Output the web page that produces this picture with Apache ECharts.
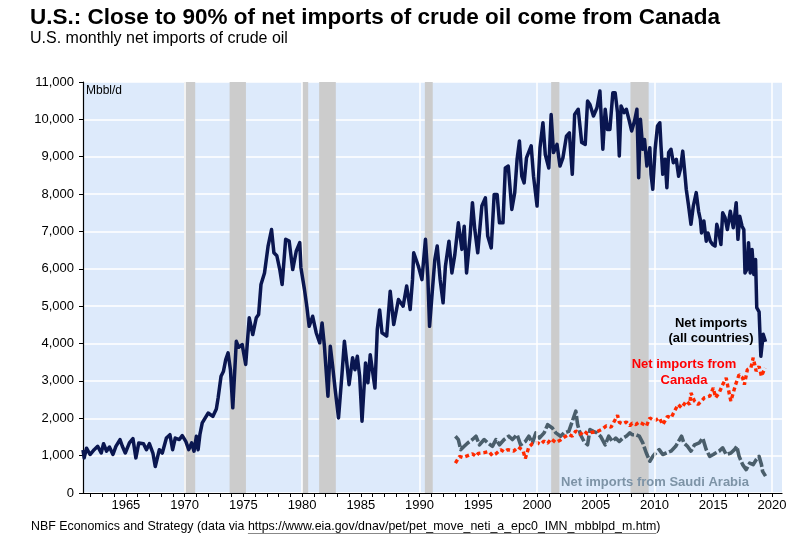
<!DOCTYPE html>
<html><head><meta charset="utf-8">
<script src="https://cdn.jsdelivr.net/npm/echarts@6/dist/echarts.min.js"></script>
<style>html,body{margin:0;padding:0;background:#fff}#c{width:797px;height:543px}</style>
</head><body><div id="c"></div>
<script>
// ---- DATA ----
// U.S. net imports of crude oil, all countries (Mbbl/d), [decimal year, value]
const netImportsAll = [
[1961.35,1150],[1961.45,940],[1961.65,1200],[1961.95,1030],[1962.3,1160],[1962.6,1250],[1962.9,1070],
[1963.1,1320],[1963.35,1120],[1963.6,1230],[1963.9,1030],[1964.15,1250],[1964.5,1430],[1964.7,1250],
[1964.95,1070],[1965.3,1340],[1965.6,1455],[1965.85,940],[1966.1,1340],[1966.5,1320],[1966.75,1160],
[1967.0,1320],[1967.3,1070],[1967.5,710],[1967.85,1160],[1968.1,1070],[1968.45,1470],[1968.75,1560],
[1968.98,1160],[1969.2,1470],[1969.55,1430],[1969.8,1535],[1970.1,1380],[1970.35,1160],[1970.6,1340],
[1970.8,1120],[1971.0,1520],[1971.15,1160],[1971.3,1560],[1971.5,1875],[1972.0,2140],[1972.4,2050],
[1972.7,2250],[1972.85,2545],[1973.1,3125],[1973.3,3250],[1973.5,3570],[1973.7,3750],[1973.9,3300],
[1974.1,2280],[1974.4,4060],[1974.6,3900],[1974.9,3970],[1975.2,3440],[1975.5,4690],[1975.8,4240],
[1976.1,4690],[1976.3,4780],[1976.5,5580],[1976.8,5890],[1977.1,6600],[1977.4,7050],[1977.6,6430],
[1977.85,6350],[1978.1,5980],[1978.3,5580],[1978.6,6790],[1978.9,6740],[1979.2,5980],[1979.5,6470],
[1979.8,6700],[1979.9,6030],[1980.2,5450],[1980.4,5000],[1980.6,4460],[1980.9,4730],[1981.2,4290],
[1981.5,4020],[1981.7,4550],[1981.9,3930],[1982.2,2590],[1982.4,3930],[1982.6,3400],[1982.8,2810],
[1983.1,2010],[1983.4,3200],[1983.6,4060],[1983.8,3500],[1984.0,2900],[1984.3,3620],[1984.5,3300],
[1984.7,3660],[1984.9,3125],[1985.1,1920],[1985.4,3480],[1985.6,2950],[1985.8,3700],[1986.2,2810],
[1986.4,4375],[1986.6,4900],[1986.8,4290],[1987.2,4200],[1987.5,5400],[1987.8,4510],[1988.2,5180],
[1988.6,5000],[1988.9,5540],[1989.2,4910],[1989.4,5710],[1989.5,6430],[1989.9,6070],[1990.2,5710],
[1990.5,6790],[1990.7,5800],[1990.85,4460],[1991.05,5270],[1991.3,6250],[1991.5,6610],[1991.75,5710],
[1992.0,5090],[1992.2,6070],[1992.5,6740],[1992.75,5890],[1993.0,6380],[1993.3,7230],[1993.6,6520],
[1993.8,7140],[1994.0,5890],[1994.3,6880],[1994.5,7770],[1994.7,7050],[1994.95,6430],[1995.3,7680],
[1995.6,7900],[1995.8,6880],[1996.1,6560],[1996.35,7990],[1996.6,7990],[1996.8,7230],[1997.1,7230],
[1997.3,8700],[1997.55,8750],[1997.85,7590],[1998.1,8040],[1998.3,8930],[1998.5,9420],[1998.7,8480],
[1998.9,8300],[1999.1,8970],[1999.5,9290],[1999.7,8480],[2000.0,7680],[2000.25,9240],[2000.5,9910],
[2000.7,9060],[2001.0,8700],[2001.2,10130],[2001.4,9110],[2001.7,9330],[2001.95,8750],[2002.2,8970],
[2002.5,9550],[2002.75,9640],[2003.0,8530],[2003.2,10130],[2003.5,10270],[2003.8,9380],[2004.1,9330],
[2004.3,10490],[2004.5,10400],[2004.8,10090],[2005.1,10310],[2005.35,10760],[2005.6,9200],[2005.8,10270],
[2006.0,9730],[2006.2,9730],[2006.45,10710],[2006.65,10710],[2006.85,10180],[2007.0,9020],[2007.15,10360],
[2007.4,10180],[2007.6,10270],[2007.85,9960],[2008.05,9690],[2008.3,9960],[2008.5,10270],[2008.65,8440],
[2008.8,10000],[2009.0,9200],[2009.15,9460],[2009.35,8750],[2009.6,9240],[2009.7,8530],[2009.85,8130],
[2010.05,9200],[2010.25,9820],[2010.45,9910],[2010.55,9290],[2010.7,8530],[2010.9,8930],[2011.05,8170],
[2011.2,9110],[2011.4,9200],[2011.6,8840],[2011.85,8930],[2012.05,8480],[2012.2,8660],[2012.4,9150],
[2012.55,8660],[2012.7,8130],[2012.9,7680],[2013.1,7190],[2013.3,7680],[2013.55,8040],[2013.75,7540],
[2013.9,7320],[2014.0,6960],[2014.2,7280],[2014.4,6740],[2014.55,6960],[2014.75,6740],[2014.95,6650],
[2015.15,6610],[2015.3,7190],[2015.45,7010],[2015.65,6650],[2015.8,7500],[2016.0,7370],[2016.2,7050],
[2016.45,7540],[2016.7,7100],[2016.95,7770],[2017.1,6790],[2017.25,7410],[2017.45,7140],[2017.6,7050],
[2017.7,5890],[2017.85,5980],[2018.0,6700],[2018.15,5890],[2018.3,6520],[2018.45,5850],[2018.6,6250],
[2018.7,4960],[2018.9,4850],[2019.05,3660],[2019.25,4250],[2019.45,4050]
];
// Net imports from Canada
const netImportsCanada = [
[1993.05,800],[1993.4,980],[1993.7,950],[1994.1,1000],[1994.5,1050],[1994.8,980],[1995.0,1060],
[1995.5,1080],[1995.9,1110],[1996.2,1000],[1996.5,1050],[1996.9,1160],[1997.2,1100],[1997.5,1160],
[1998.0,1120],[1998.4,1230],[1998.8,1140],[1999.0,920],[1999.3,1230],[1999.6,1320],[2000.0,1350],
[2000.3,1300],[2000.6,1390],[2000.9,1330],[2001.2,1450],[2001.6,1350],[2002.0,1420],[2002.2,1470],
[2002.7,1570],[2003.0,1520],[2003.3,1660],[2003.7,1570],[2004.0,1660],[2004.3,1580],[2004.6,1620],
[2005.1,1640],[2005.6,1720],[2005.9,1800],[2006.3,1760],[2006.85,2080],[2007.0,1890],[2007.3,1850],
[2007.6,1900],[2007.9,1800],[2008.1,1870],[2008.4,1830],[2008.7,1900],[2009.0,1850],[2009.3,1790],
[2009.6,2010],[2010.0,1930],[2010.4,2010],[2010.7,1830],[2011.1,2050],[2011.4,2010],[2011.7,2190],
[2012.0,2370],[2012.3,2280],[2012.7,2460],[2013.0,2370],[2013.1,2680],[2013.4,2460],[2013.7,2370],
[2014.0,2460],[2014.25,2550],[2014.7,2590],[2015.0,2810],[2015.2,2550],[2015.5,2680],[2015.8,2900],
[2016.1,3080],[2016.4,2590],[2016.5,2460],[2016.9,2900],[2017.2,3170],[2017.5,3080],[2017.65,2900],
[2017.9,3300],[2018.2,3350],[2018.4,3620],[2018.65,3260],[2018.9,3390],[2019.1,3120],[2019.4,3350]
];
// Net imports from Saudi Arabia
const netImportsSaudi = [
[1993.05,1520],[1993.3,1430],[1993.5,1160],[1993.8,1250],[1994.1,1340],[1994.5,1430],[1994.8,1520],
[1995.1,1290],[1995.5,1430],[1995.8,1340],[1996.2,1250],[1996.5,1430],[1996.8,1290],[1997.2,1430],
[1997.6,1520],[1997.9,1430],[1998.3,1560],[1998.6,1290],[1999.0,1380],[1999.3,1520],[1999.6,1340],
[1999.9,1610],[2000.2,1470],[2000.6,1610],[2000.9,1830],[2001.3,1740],[2001.6,1610],[2002.0,1520],
[2002.3,1610],[2002.7,1650],[2003.0,1920],[2003.3,2190],[2003.45,1830],[2003.7,1560],[2004.0,1380],
[2004.3,1290],[2004.5,1700],[2004.8,1650],[2005.1,1610],[2005.4,1520],[2005.8,1290],[2006.1,1520],
[2006.4,1380],[2006.7,1470],[2007.0,1380],[2007.3,1470],[2007.6,1520],[2007.9,1610],[2008.1,1560],
[2008.4,1560],[2008.7,1520],[2009.0,1340],[2009.3,1070],[2009.6,850],[2009.85,980],[2010.1,1070],
[2010.4,1160],[2010.7,1030],[2011.0,1070],[2011.4,1120],[2011.8,1250],[2012.3,1520],[2012.5,1340],
[2012.8,1250],[2013.1,1120],[2013.4,1290],[2013.8,1340],[2014.1,1470],[2014.4,1160],[2014.7,980],
[2015.0,1030],[2015.2,1070],[2015.5,1120],[2015.8,1210],[2016.1,1030],[2016.5,1070],[2016.8,1160],
[2017.0,1250],[2017.2,980],[2017.5,760],[2017.8,625],[2018.1,800],[2018.4,760],[2018.65,890],
[2018.9,980],[2019.1,760],[2019.2,580],[2019.45,450]
];
// NBER recessions [start, end] in decimal years
const recessions = [[1969.95,1970.9],[1973.83,1975.22],[1980.0,1980.52],[1981.45,1982.87],[1990.45,1991.12],[2001.2,2001.9],[2007.95,2009.5]];
// Axis ticks / labels
const xTickYears = [1962,1963,1964,1965,1966,1967,1968,1969,1970,1971,1972,1973,1974,1975,1976,1977,1978,1979,1980,1981,1982,1983,1984,1985,1986,1987,1988,1989,1990,1991,1992,1993,1994,1995,1996,1997,1998,1999,2000,2001,2002,2003,2004,2005,2006,2007,2008,2009,2010,2011,2012,2013,2014,2015,2016,2017,2018,2019,2020];
const xLabelYears = [1965,1970,1975,1980,1985,1990,1995,2000,2005,2010,2015,2020];
const xGridYears = [1970,1980,1990,2000,2010,2020];
const titleText = 'U.S.: Close to 90% of net imports of crude oil come from Canada';
const subtitleText = 'U.S. monthly net imports of crude oil';
const unitText = 'Mbbl/d';
const sourcePrefix = 'NBF Economics and Strategy (data via ';
const sourceUrl = 'https://www.eia.gov/dnav/pet/pet_move_neti_a_epc0_IMN_mbblpd_m.htm';
const sourceSuffix = ')';

// ---- CHART ----
const FONT = '"Liberation Sans", Arial, sans-serif';
const chart = echarts.init(document.getElementById('c'), null, {renderer: 'canvas'});

const SRC_FONT = '12.4px ' + FONT;
const cv = document.createElement('canvas').getContext('2d');
cv.font = SRC_FONT;
const srcX = 31;
const urlX = srcX + cv.measureText(sourcePrefix).width;
const urlW = cv.measureText(sourceUrl).width;

const GRID = {left: 83, right: 15, top: 82, bottom: 50};

chart.setOption({
  animation: false,
  backgroundColor: '#ffffff',
  grid: Object.assign({show: true, backgroundColor: '#DDEAFB', borderWidth: 0}, GRID),
  xAxis: {
    type: 'value', min: 1961.35, max: 2020.85,
    axisLine: {show: true, onZero: false, lineStyle: {color: '#000', width: 1.2}},
    axisTick: {show: true, customValues: xTickYears, length: 4, lineStyle: {color: '#000'}},
    axisLabel: {show: true, customValues: xLabelYears, margin: 6, color: '#000', fontSize: 13, fontFamily: FONT,
      formatter: v => String(Math.round(v))},
    splitLine: {show: false}
  },
  yAxis: {
    type: 'value', min: 0, max: 11000, interval: 1000,
    axisLine: {show: true, lineStyle: {color: '#000', width: 1.2}},
    axisTick: {show: true, length: 4, lineStyle: {color: '#000'}},
    axisLabel: {margin: 9, color: '#000', fontSize: 13, fontFamily: FONT,
      formatter: v => v.toLocaleString('en-US')},
    splitLine: {show: true, lineStyle: {color: '#ffffff', width: 1.5}}
  },
  series: [
    {
      type: 'line', data: [], z: 1, silent: true,
      markArea: {silent: true, itemStyle: {color: '#CCCCCC'},
        data: recessions.map(r => [{xAxis: r[0]}, {xAxis: r[1]}])},
      markLine: {silent: true, symbol: 'none', label: {show: false},
        lineStyle: {color: '#ffffff', width: 1.5, type: 'solid'},
        data: xGridYears.map(y => ({xAxis: y}))}
    },
    {
      name: 'Saudi', type: 'line', data: netImportsSaudi, z: 3, showSymbol: false, symbol: 'none',
      lineStyle: {color: '#4A5E6B', width: 3.6, type: [12, 2.5], join: 'round'}
    },
    {
      name: 'Canada', type: 'line', data: netImportsCanada, z: 4, showSymbol: false, symbol: 'none',
      lineStyle: {color: '#FF2A00', width: 3.4, type: [4, 3]}
    },
    {
      name: 'All', type: 'line', data: netImportsAll, z: 5, showSymbol: false, symbol: 'none',
      lineStyle: {color: '#0A1650', width: 3.5, join: 'round'}
    }
  ],
  graphic: [
    {type: 'text', z: 100, left: 30, top: 6, style: {text: titleText, font: 'bold 22.5px ' + FONT, fill: '#000'}},
    {type: 'text', z: 100, left: 30, top: 31, style: {text: subtitleText, font: '16px ' + FONT, fill: '#000'}},
    {type: 'text', z: 100, left: 86, top: 85, style: {text: unitText, font: '12px ' + FONT, fill: '#000'}},
    {type: 'text', z: 100, x: 711, y: 323, style: {text: 'Net imports', font: 'bold 13px ' + FONT, fill: '#000', align: 'center', verticalAlign: 'middle'}},
    {type: 'text', z: 100, x: 711, y: 338, style: {text: '(all countries)', font: 'bold 13px ' + FONT, fill: '#000', align: 'center', verticalAlign: 'middle'}},
    {type: 'text', z: 100, x: 684, y: 364, style: {text: 'Net imports from', font: 'bold 13px ' + FONT, fill: '#FF0000', align: 'center', verticalAlign: 'middle'}},
    {type: 'text', z: 100, x: 684, y: 380, style: {text: 'Canada', font: 'bold 13px ' + FONT, fill: '#FF0000', align: 'center', verticalAlign: 'middle'}},
    {type: 'text', z: 100, x: 655, y: 482, style: {text: 'Net imports from Saudi Arabia', font: 'bold 13px ' + FONT, fill: '#7D93A6', align: 'center', verticalAlign: 'middle'}},
    {type: 'text', z: 100, x: srcX, y: 527, style: {text: sourcePrefix + sourceUrl + sourceSuffix, font: SRC_FONT, fill: '#000', verticalAlign: 'middle'}},
    {type: 'line', z: 100, shape: {x1: urlX, y1: 533.5, x2: urlX + urlW, y2: 533.5}, style: {stroke: '#888888', lineWidth: 1}}
  ]
});
</script>
</body></html>
